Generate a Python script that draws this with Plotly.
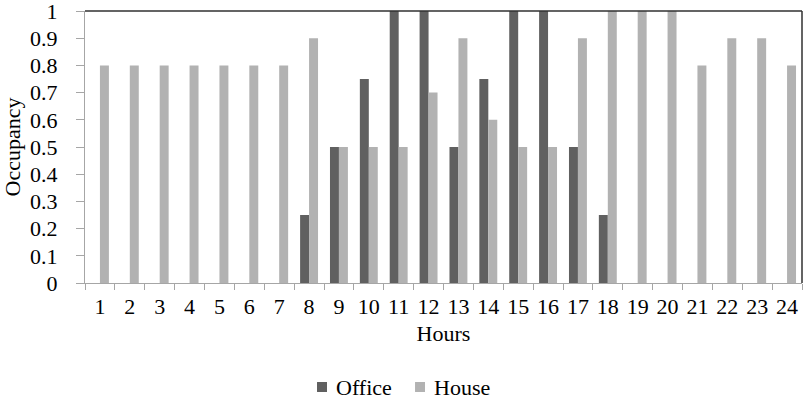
import plotly.graph_objects as go

# Hourly occupancy profiles
hours = [str(h) for h in range(1, 25)]
office = [0, 0, 0, 0, 0, 0, 0, 0.25, 0.5, 0.75, 1, 1,
          0.5, 0.75, 1, 1, 0.5, 0.25, 0, 0, 0, 0, 0, 0]
house = [0.8, 0.8, 0.8, 0.8, 0.8, 0.8, 0.8, 0.9, 0.5, 0.5, 0.5, 0.7,
         0.9, 0.6, 0.5, 0.5, 0.9, 1, 1, 1, 0.8, 0.9, 0.9, 0.8]
y_ticks = [round(i * 0.1, 1) for i in range(11)]
y_tick_text = ["0", "0.1", "0.2", "0.3", "0.4", "0.5", "0.6", "0.7", "0.8", "0.9", "1"]

series_names = ["Office", "House"]
series_colors = ["#606060", "#b2b2b2"]

FONT = "Liberation Serif, Times New Roman, serif"
FS = 22
AXIS_GREY = "#a6a6a6"

fig = go.Figure()
for name, vals, col in zip(series_names, [office, house], series_colors):
    fig.add_trace(go.Bar(x=hours, y=vals, name=name, showlegend=False,
                         marker=dict(color=col, line=dict(width=0))))

fig.update_layout(
    width=803, height=399,
    margin=dict(l=85, r=1, t=11, b=116),
    paper_bgcolor="white", plot_bgcolor="white",
    barmode="group", bargap=0.4, bargroupgap=0,
    font=dict(family=FONT, size=FS, color="#000000"),
    showlegend=False,
)

fig.update_xaxes(
    type="category", tickson="boundaries", tickangle=0, automargin=False,
    showline=True, linecolor=AXIS_GREY, linewidth=1,
    ticks="outside", ticklen=6, tickcolor=AXIS_GREY,
    ticklabelstandoff=4, ticklabeloverflow="allow",
    showgrid=False, tickfont=dict(size=FS),
    title=dict(text="Hours", font=dict(size=FS), standoff=7),
)
fig.update_yaxes(
    range=[0, 1], tickvals=y_ticks, ticktext=y_tick_text, automargin=False,
    showline=True, linecolor=AXIS_GREY, linewidth=1,
    ticks="outside", ticklen=8, tickcolor=AXIS_GREY,
    ticklabelstandoff=14, ticklabeloverflow="allow",
    showgrid=False, zeroline=False, tickfont=dict(size=FS),
    title=dict(text="Occupancy", font=dict(size=FS), standoff=8),
)

# dark frame on the top and right edges of the plotting area
fig.add_shape(type="line", xref="paper", yref="paper", x0=0, x1=1, y0=1, y1=1,
              line=dict(color="#303030", width=1.5))
fig.add_shape(type="line", xref="paper", yref="paper", x0=1, x1=1, y0=0, y1=1,
              line=dict(color="#303030", width=1.5))

# legend row below the axis title: colour swatch followed by series name
legend_x = [0.3236, 0.4603]
sw = 0.0139
for name, col, lx in zip(series_names, series_colors, legend_x):
    fig.add_shape(type="rect", xref="paper", yref="paper",
                  x0=lx, x1=lx + sw, y0=-0.4007, y1=-0.3640,
                  fillcolor=col, line=dict(width=0))
    fig.add_annotation(xref="paper", yref="paper", x=lx + sw + 0.010, y=-0.3824,
                       text=name, showarrow=False, xanchor="left", yanchor="middle",
                       font=dict(size=FS))

fig.write_html("out.html")
